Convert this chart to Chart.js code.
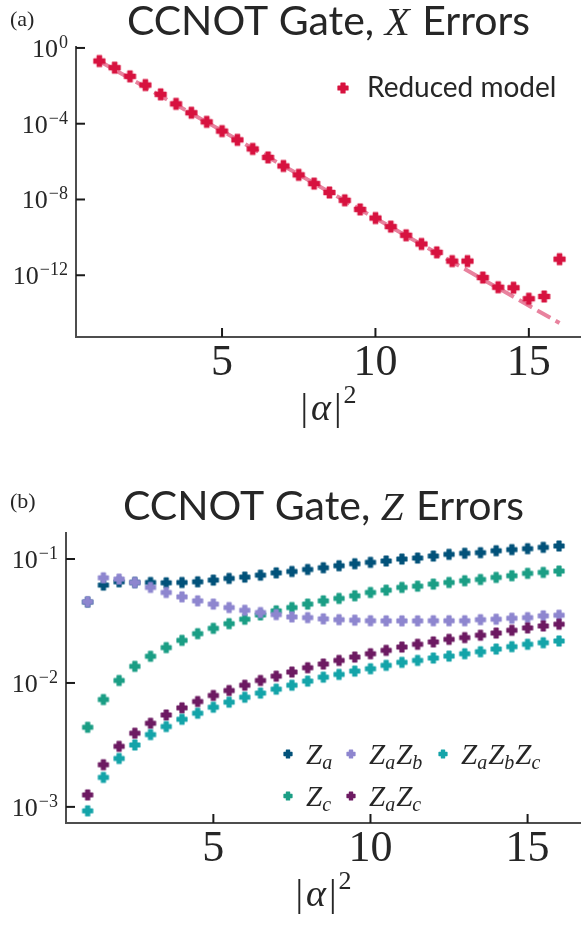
<!DOCTYPE html>
<html>
<head>
<meta charset="utf-8">
<script src="https://cdn.jsdelivr.net/npm/chart.js@4/dist/chart.umd.min.js"></script>
<style>
  body { margin: 0; background: #fff; }
  canvas { display: block; }
</style>
</head>
<body>
<canvas id="chartA" width="581" height="464"></canvas>
<canvas id="chartB" width="581" height="464"></canvas>
<script>
// |alpha|^2 values shared by both panels
const alphaSq = [1, 1.5, 2, 2.5, 3, 3.5, 4, 4.5, 5, 5.5, 6, 6.5, 7, 7.5, 8, 8.5,
  9, 9.5, 10, 10.5, 11, 11.5, 12, 12.5, 13, 13.5, 14, 14.5, 15, 15.5, 16];

// panel (a): X errors, reduced model
const reducedModel = [0.204, 0.0912, 0.0316, 0.011, 3.55e-3, 1.12e-3, 3.8e-4, 1.26e-4,
  4.07e-5, 1.41e-5, 4.68e-6, 1.66e-6, 5.89e-7, 2.0e-7, 6.92e-8, 2.34e-8,
  9.1e-9, 3.0e-9, 1.05e-9, 3.7e-10, 1.29e-10, 4.47e-11, 1.62e-11, 5.6e-12,
  5.6e-12, 7.6e-13, 2.34e-13, 2.19e-13, 5.75e-14, 7.6e-14, 7.1e-12];
const fitX = [1, 16];
const fitY = [0.204, 3.0e-15];

// panel (b): Z errors
const zA = [0.045, 0.0616, 0.0655, 0.0647, 0.0647, 0.0643, 0.0647, 0.0655,
  0.0676, 0.0698, 0.0715, 0.0741, 0.0774, 0.0794, 0.0824, 0.0851,
  0.0883, 0.0916, 0.094, 0.0964, 0.1, 0.1019, 0.1057, 0.1091,
  0.1112, 0.1125, 0.1167, 0.1191, 0.1213, 0.1242, 0.1274];
const zAzB = [0.0452, 0.0706, 0.0689, 0.0647, 0.059, 0.0537, 0.0495, 0.046,
  0.0433, 0.0406, 0.0386, 0.037, 0.0356, 0.0341, 0.0337, 0.0329,
  0.0324, 0.0321, 0.0318, 0.0317, 0.0317, 0.0317, 0.0318, 0.0318,
  0.0318, 0.0324, 0.0327, 0.0333, 0.0337, 0.0348, 0.0352];
const zC = [0.00439, 0.00735, 0.01047, 0.01361, 0.01641, 0.01928, 0.02208, 0.025,
  0.0276, 0.0301, 0.0327, 0.0354, 0.0382, 0.0406, 0.0433, 0.046,
  0.0481, 0.0505, 0.0537, 0.0561, 0.059, 0.0604, 0.0628, 0.0647,
  0.0668, 0.0684, 0.0711, 0.0733, 0.0766, 0.078, 0.08];
const zAzC = [0.00125, 0.00219, 0.00308, 0.00393, 0.00473, 0.00552, 0.0063, 0.00708,
  0.00793, 0.00869, 0.00959, 0.01047, 0.01135, 0.01225, 0.01327, 0.01422,
  0.01521, 0.01618, 0.01722, 0.01832, 0.0195, 0.02051, 0.02143, 0.02249,
  0.02323, 0.02427, 0.02529, 0.02661, 0.0278, 0.02884, 0.02979];
const zAzBzC = [0.000929, 0.00173, 0.00246, 0.00316, 0.00383, 0.00445, 0.00509, 0.0057,
  0.00637, 0.007, 0.00767, 0.00828, 0.00891, 0.00959, 0.01035, 0.01114,
  0.01172, 0.01247, 0.01303, 0.01387, 0.01466, 0.01521, 0.01589, 0.01648,
  0.01722, 0.01786, 0.01879, 0.01963, 0.02051, 0.02113, 0.02183];

// tick labels
const xTicks = [5, 10, 15];
const yExpA = [0, -4, -8, -12];
const yExpB = [-1, -2, -3];

const SERIF = '"Liberation Serif", "DejaVu Serif", serif';
const SANS = 'Lato, "Open Sans", sans-serif';
const INK = '#262626';
const RED = '#d7123f';
const colors = {
  zA: '#02527a', zAzB: '#8e86cf', zAzBzC: '#14a4a9', zC: '#1b9e85', zAzC: '#6d1a62'
};

// filled plus marker (matplotlib "P")
function plusMarker(color, size) {
  const c = document.createElement('canvas');
  c.width = c.height = size + 4;
  const g = c.getContext('2d');
  const h = size / 2, a = size * 0.2;
  g.translate(c.width / 2, c.height / 2);
  g.beginPath();
  g.moveTo(-a, -h); g.lineTo(a, -h); g.lineTo(a, -a); g.lineTo(h, -a);
  g.lineTo(h, a); g.lineTo(a, a); g.lineTo(a, h); g.lineTo(-a, h);
  g.lineTo(-a, a); g.lineTo(-h, a); g.lineTo(-h, -a); g.lineTo(-a, -a);
  g.closePath();
  g.fillStyle = color;
  g.fill();
  g.lineJoin = 'round';
  g.lineWidth = 1.2;
  g.strokeStyle = color;
  g.stroke();
  return c;
}

// draw a row of text pieces: [text, font, dy, extraGap]
function runs(ctx, parts, x, y, align) {
  let w = 0;
  parts.forEach(p => { ctx.font = p[1]; w += ctx.measureText(p[0]).width + (p[3] || 0); });
  let cx = align === 'right' ? x - w : align === 'center' ? x - w / 2 : x;
  ctx.textAlign = 'left';
  ctx.textBaseline = 'alphabetic';
  parts.forEach(p => {
    ctx.font = p[1];
    ctx.fillText(p[0], cx, y + (p[2] || 0));
    cx += ctx.measureText(p[0]).width + (p[3] || 0);
  });
}

function expText(e) {
  return String(e).replace('-', '\u2212');
}

function panelPlugin(p) {
  return {
    id: 'panel' + p.letter,
    afterDraw(chart) {
      const { ctx, chartArea: area, scales: { x, y } } = chart;
      ctx.save();
      ctx.fillStyle = INK;
      ctx.strokeStyle = '#1a1a1a';
      ctx.lineWidth = 2;

      // inward ticks + labels
      xTicks.forEach(v => {
        const px = x.getPixelForValue(v);
        ctx.beginPath();
        ctx.moveTo(px, area.bottom);
        ctx.lineTo(px, area.bottom - 9);
        ctx.stroke();
        runs(ctx, [[String(v), '44px ' + SERIF]], px, area.bottom + 38, 'center');
      });
      p.yExp.forEach(e => {
        const py = y.getPixelForValue(Math.pow(10, e));
        ctx.beginPath();
        ctx.moveTo(area.left, py);
        ctx.lineTo(area.left + 9, py);
        ctx.stroke();
        runs(ctx, [['10', '26px ' + SERIF, 0, 1], [expText(e), '18px ' + SERIF, -9]],
          area.left - 8, py + 9, 'right');
      });

      // axis title |alpha|^2
      const cx = (area.left + area.right) / 2;
      runs(ctx, [['|', '38px ' + SERIF, 0, 3], ['\u03b1', 'italic 38px ' + SERIF, 0, 3],
        ['|', '38px ' + SERIF, 0, 2], ['2', '26px ' + SERIF, -17]], cx, area.bottom + 83, 'center');

      // panel title and letter
      runs(ctx, [['CCNOT Gate, ', '41px ' + SANS], [p.errName, 'italic 41px ' + SERIF, 0, 2],
        [' Errors', '41px ' + SANS]], cx, p.titleY, 'center');
      runs(ctx, [['(' + p.letter + ')', '22px ' + SERIF]], 10, p.letterY, 'left');

      p.legend(ctx);
      ctx.restore();
    }
  };
}

function legendA(ctx) {
  const m = plusMarker(RED, 10);
  ctx.drawImage(m, 343 - m.width / 2, 88 - m.height / 2);
  ctx.fillStyle = INK;
  runs(ctx, [['Reduced model', '28px ' + SANS]], 367, 97, 'left');
}

function legendB(ctx) {
  const items = [
    [colors.zA, 288, 290, [['Z', 'a']]],
    [colors.zAzB, 351, 290, [['Z', 'a'], ['Z', 'b']]],
    [colors.zAzBzC, 443, 290, [['Z', 'a'], ['Z', 'b'], ['Z', 'c']]],
    [colors.zC, 288, 332, [['Z', 'c']]],
    [colors.zAzC, 351, 332, [['Z', 'a'], ['Z', 'c']]]
  ];
  items.forEach(([col, mx, my, terms]) => {
    const m = plusMarker(col, 8);
    ctx.drawImage(m, mx - m.width / 2, my - m.height / 2);
    const parts = [];
    terms.forEach(([z, s]) => {
      parts.push([z, 'italic 29px ' + SERIF, 0, 0]);
      parts.push([s, 'italic 20px ' + SERIF, 5, 1]);
    });
    ctx.fillStyle = INK;
    runs(ctx, parts, mx + 18, my + 10, 'left');
  });
}

function pts(ys) {
  return alphaSq.map((v, i) => ({ x: v, y: ys[i] }));
}

function axes(xmin, xmax, ymin, ymax, yWidth, xHeight) {
  return {
    x: {
      type: 'linear', min: xmin, max: xmax,
      grid: { display: false },
      border: { display: true, color: '#4d4d4d', width: 2 },
      ticks: { display: false },
      afterFit(s) { s.height = xHeight; }
    },
    y: {
      type: 'logarithmic', min: ymin, max: ymax,
      grid: { display: false },
      border: { display: true, color: '#4d4d4d', width: 2 },
      ticks: { display: false },
      afterFit(s) { s.width = yWidth; }
    }
  };
}

const common = {
  responsive: false,
  animation: false,
  events: [],
  plugins: { legend: { display: false }, tooltip: { enabled: false } }
};

new Chart(document.getElementById('chartA'), {
  type: 'scatter',
  data: {
    datasets: [
      { label: 'Reduced model', data: pts(reducedModel), order: 1,
        pointStyle: plusMarker(RED, 11), pointRadius: 6 },
      { type: 'line', label: 'fit', data: fitX.map((v, i) => ({ x: v, y: fitY[i] })), order: 2,
        borderColor: '#e8829e', borderWidth: 4, borderDash: [15, 6], pointRadius: 0, fill: false }
    ]
  },
  options: {
    ...common,
    layout: { autoPadding: false, padding: { top: 47, right: 0, bottom: 0, left: 0 } },
    scales: axes(0.24, 16.7, Math.pow(10, -15.26), Math.pow(10, 0.05), 76, 127)
  },
  plugins: [panelPlugin({ letter: 'a', errName: 'X', yExp: yExpA, titleY: 35, letterY: 26, legend: legendA })]
});

const seriesB = [
  ['Z_a', zA, colors.zA, 5],
  ['Z_c', zC, colors.zC, 4],
  ['Z_aZ_b', zAzB, colors.zAzB, 3],
  ['Z_aZ_c', zAzC, colors.zAzC, 2],
  ['Z_aZ_bZ_c', zAzBzC, colors.zAzBzC, 1]
];

new Chart(document.getElementById('chartB'), {
  type: 'scatter',
  data: {
    datasets: seriesB.map(([label, ys, col, order]) => ({
      label, data: pts(ys), order, pointStyle: plusMarker(col, 10), pointRadius: 6
    }))
  },
  options: {
    ...common,
    layout: { autoPadding: false, padding: { top: 69, right: 0, bottom: 0, left: 0 } },
    scales: axes(0.31, 16.7, Math.pow(10, -3.13), Math.pow(10, -0.79), 66, 105)
  },
  plugins: [panelPlugin({ letter: 'b', errName: 'Z', yExp: yExpB, titleY: 56, letterY: 44, legend: legendB })]
});
</script>
</body>
</html>
